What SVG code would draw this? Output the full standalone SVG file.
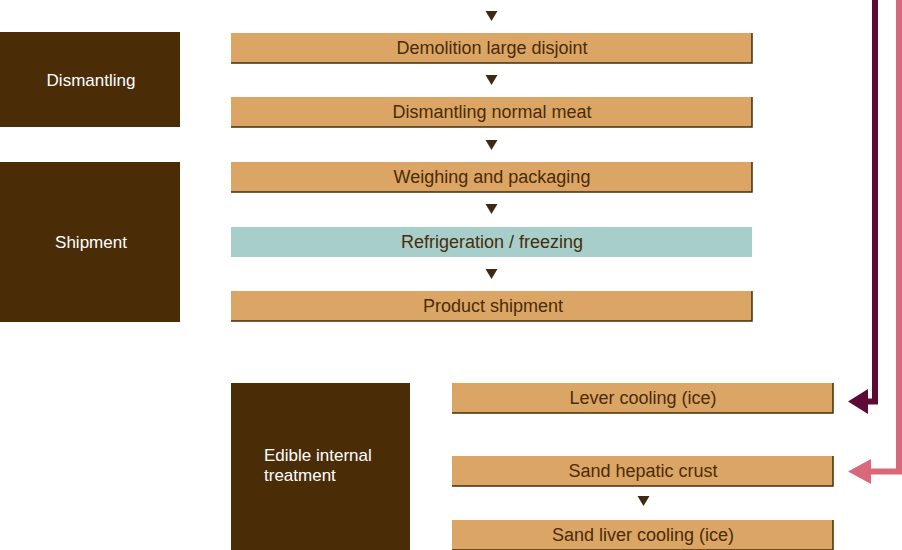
<svg xmlns="http://www.w3.org/2000/svg" width="902" height="550" viewBox="0 0 902 550">
<style>
.step{fill:#DBA566;}
.cold{fill:#A8CECB;}
.edge{fill:none;stroke:#4A2C07;stroke-width:1.5;}
.phase{fill:#4A2C07;}
.t{font-family:"Liberation Sans",Arial,sans-serif;font-size:18px;fill:#4A2C07;text-anchor:middle;}
.w{font-family:"Liberation Sans",Arial,sans-serif;font-size:17px;fill:#FFFFFF;}
.tri{fill:#3E2A10;}
</style>
<g id="phase-dismantling"><rect class="phase" x="0" y="32" width="180" height="95"/><text class="w" x="91" y="86" text-anchor="middle">Dismantling</text></g>
<g id="phase-shipment"><rect class="phase" x="0" y="162" width="180" height="160"/><text class="w" x="91" y="248" text-anchor="middle">Shipment</text></g>
<g id="phase-edible"><rect class="phase" x="231" y="383" width="179" height="167"/><text class="w" x="264" y="461">Edible internal</text><text class="w" x="264" y="481">treatment</text></g>
<g id="n1"><rect class="step" x="231" y="33" width="521" height="30"/><path class="edge" d="M231,63 H752 V33"/><text class="t" x="492" y="54">Demolition large disjoint</text></g>
<g id="n2"><rect class="step" x="231" y="97" width="521" height="30"/><path class="edge" d="M231,127 H752 V97"/><text class="t" x="492" y="118">Dismantling normal meat</text></g>
<g id="n3"><rect class="step" x="231" y="162" width="521" height="30"/><path class="edge" d="M231,192 H752 V162"/><text class="t" x="492" y="183">Weighing and packaging</text></g>
<g id="n4"><rect class="cold" x="231" y="227" width="521" height="30"/><text class="t" x="492" y="248">Refrigeration / freezing</text></g>
<g id="n5"><rect class="step" x="231" y="291" width="521" height="30"/><path class="edge" d="M231,321 H752 V291"/><text class="t" x="493" y="312">Product shipment</text></g>
<g id="n6"><rect class="step" x="452" y="383" width="381" height="30"/><path class="edge" d="M452,413 H833 V383"/><text class="t" x="643" y="404">Lever cooling (ice)</text></g>
<g id="n7"><rect class="step" x="452" y="456" width="381" height="30"/><path class="edge" d="M452,486 H833 V456"/><text class="t" x="643" y="477">Sand hepatic crust</text></g>
<g id="n8"><rect class="step" x="452" y="520" width="381" height="30"/><path class="edge" d="M452,550 H833 V520"/><text class="t" x="643" y="541">Sand liver cooling (ice)</text></g>
<g id="connectors">
<path class="tri" d="M485.5,11 H497.5 L491.5,21 Z"/>
<path class="tri" d="M485.5,75 H497.5 L491.5,85 Z"/>
<path class="tri" d="M485.5,140 H497.5 L491.5,150 Z"/>
<path class="tri" d="M485.5,204 H497.5 L491.5,214 Z"/>
<path class="tri" d="M485.5,269 H497.5 L491.5,279 Z"/>
<path class="tri" d="M637.5,496 H649.5 L643.5,506 Z"/>
<path d="M875,0 V401.5 H866" fill="none" stroke="#5E0A37" stroke-width="6"/>
<path d="M848,401.5 L868,389 L868,414 Z" fill="#5E0A37"/>
<path d="M899,0 V471.5 H869" fill="none" stroke="#D9697A" stroke-width="6"/>
<path d="M848,471.5 L871,459 L871,484 Z" fill="#D9697A"/>
</g>
</svg>
